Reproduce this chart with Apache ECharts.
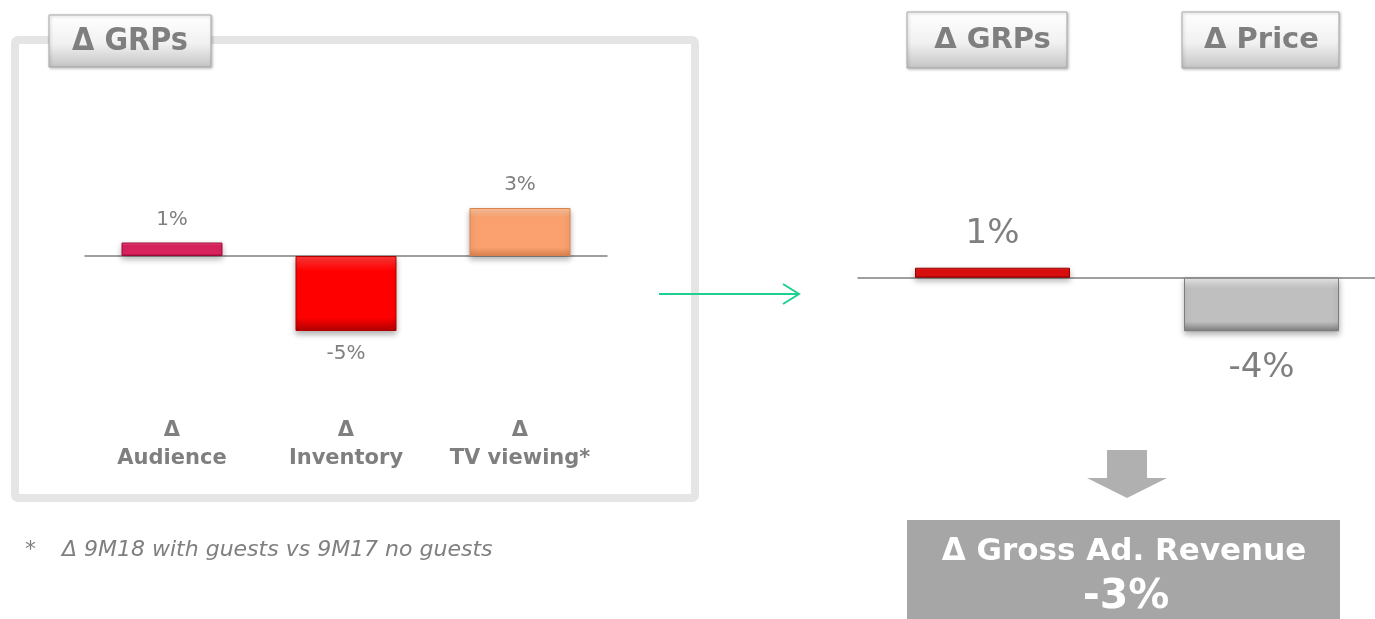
<!DOCTYPE html>
<html>
<head>
<meta charset="utf-8">
<script src="https://cdn.jsdelivr.net/npm/echarts@6/dist/echarts.min.js"></script>
<style>
  html, body { margin: 0; padding: 0; background: #fff; }
  #chart { width: 1375px; height: 619px; }
</style>
</head>
<body>
<div id="chart"></div>
<script>
// drivers of GRPs (left panel)
const driverCats = ['Δ\nAudience', 'Δ\nInventory', 'Δ\nTV viewing*']
const driverVals = [0.9, -5.0, 3.2]

// GRPs x price (right panel)
const resultCats = ['Δ GRPs', 'Δ Price']
const resultVals = [0.75, -4.0]

const leftTitle = 'Δ GRPs'
const revenueTitle = 'Δ Gross Ad. Revenue'
const revenueVal = -3
const footnote = 'Δ 9M18 with guests vs 9M17 no guests'

const FONT = 'DejaVu Sans, Verdana, sans-serif'
const GREY_TEXT = '#7f7f7f'

// light / mid / dark tones per bar, to fake the bevel
const driverPalette = [
  ['#f7578a', '#dc2360', '#9c0b3b'],
  ['#ff3a3a', '#ff0000', '#b00000'],
  ['#fdc39c', '#faa16f', '#d9834f'],
]
const resultPalette = [
  ['#ff4a4a', '#e00f0f', '#900000'],
  ['#ececec', '#bfbfbf', '#7c7c7c'],
]

function bevel(c) {
  return new echarts.graphic.LinearGradient(0, 0, 0, 1, [
    { offset: 0, color: c[0] },
    { offset: 0.2, color: c[1] },
    { offset: 0.82, color: c[1] },
    { offset: 1, color: c[2] },
  ])
}

function pct(v) {
  return Math.round(v) + '%'
}

function barItems(vals, palette, dTop, dBottom) {
  return vals.map((v, i) => ({
    value: v,
    itemStyle: {
      color: bevel(palette[i]),
      borderColor: palette[i][2],
      borderWidth: 1,
      shadowBlur: 6,
      shadowOffsetY: 3,
      shadowColor: 'rgba(0,0,0,0.3)',
    },
    label: {
      position: v >= 0 ? 'top' : 'bottom',
      distance: v >= 0 ? dTop : dBottom,
    },
  }))
}

function headerBox(x, y, w, h) {
  return {
    type: 'rect',
    shape: { x, y, width: w, height: h },
    style: {
      fill: new echarts.graphic.LinearGradient(0, 0, 0, 1, [
        { offset: 0, color: '#ffffff' },
        { offset: 0.55, color: '#f1f1f1' },
        { offset: 1, color: '#c4c4c4' },
      ]),
      stroke: '#a9a9a9',
      lineWidth: 1,
      shadowBlur: 3,
      shadowOffsetX: 1,
      shadowOffsetY: 1,
      shadowColor: 'rgba(0,0,0,0.25)',
    },
  }
}

const chart = echarts.init(document.getElementById('chart'))

const option = {
  animation: false,
  textStyle: { fontFamily: FONT },
  grid: [
    { left: 85, top: 196, width: 522, height: 180, outerBoundsMode: 'none' },
    { left: 858, top: 251, width: 538, height: 107, outerBoundsMode: 'none' },
  ],
  xAxis: [
    {
      gridIndex: 0, type: 'category', data: driverCats,
      axisLine: { onZero: true, lineStyle: { color: '#808080', width: 1.5 } },
      axisTick: { show: false }, axisLabel: { show: false },
    },
    {
      gridIndex: 0, type: 'category', data: driverCats, position: 'bottom',
      axisLine: { show: false, onZero: false }, axisTick: { show: false },
      axisLabel: {
        interval: 0, color: GREY_TEXT, fontWeight: 'bold', fontSize: 21, lineHeight: 28,
        margin: 41, fontFamily: FONT,
      },
    },
    {
      gridIndex: 1, type: 'category', data: resultCats,
      axisLine: { onZero: true, lineStyle: { color: '#808080', width: 1.5 } },
      axisTick: { show: false }, axisLabel: { show: false },
    },
    {
      gridIndex: 1, type: 'category', data: resultCats, position: 'top',
      axisLine: { show: false, onZero: false }, axisTick: { show: false },
      axisLabel: {
        interval: 0, color: GREY_TEXT, fontWeight: 'bold', fontSize: 29,
        margin: 196, fontFamily: FONT,
      },
    },
  ],
  yAxis: [
    { gridIndex: 0, type: 'value', min: -8, max: 4, show: false },
    { gridIndex: 1, type: 'value', min: -6, max: 2, show: false },
  ],
  series: [
    {
      type: 'bar', xAxisIndex: 0, yAxisIndex: 0, barWidth: 101,
      data: barItems(driverVals, driverPalette, 13, 13),
      label: {
        show: true, color: GREY_TEXT, fontSize: 20, fontFamily: FONT,
        formatter: (p) => pct(p.value),
      },
    },
    {
      type: 'bar', xAxisIndex: 2, yAxisIndex: 1, barWidth: 155,
      data: barItems(resultVals, resultPalette, 17, 20),
      label: {
        show: true, color: GREY_TEXT, fontSize: 34, fontFamily: FONT,
        formatter: (p) => pct(p.value),
      },
    },
  ],
  graphic: [
    // left frame
    {
      type: 'rect', z: -10,
      shape: { x: 15, y: 40, width: 680, height: 458, r: 3 },
      style: { fill: 'none', stroke: '#e5e5e5', lineWidth: 8 },
    },
    headerBox(49, 15, 162, 52),
    {
      type: 'text', x: 130, y: 42,
      style: {
        text: leftTitle, fill: GREY_TEXT, align: 'center', verticalAlign: 'middle',
        font: 'bold 32px "DejaVu Sans Condensed", "DejaVu Sans", sans-serif',
      },
    },
    headerBox(907, 12, 160, 56),
    headerBox(1182, 12, 157, 56),
    // green connector arrow
    {
      type: 'polyline',
      shape: { points: [[659, 294], [799, 294]] },
      style: { stroke: '#1fcf8f', lineWidth: 2, fill: 'none' },
    },
    {
      type: 'polyline',
      shape: { points: [[783, 284], [799, 294], [783, 304]] },
      style: { stroke: '#1fcf8f', lineWidth: 2, fill: 'none' },
    },
    // block arrow down
    {
      type: 'polygon',
      shape: {
        points: [[1107, 450], [1147, 450], [1147, 478], [1167, 478], [1127, 498], [1087, 478], [1107, 478]],
      },
      style: { fill: '#b0b0b0' },
    },
    // revenue box
    {
      type: 'rect',
      shape: { x: 907, y: 520, width: 433, height: 99 },
      style: { fill: '#a6a6a6' },
    },
    {
      type: 'text', x: 1124, y: 552,
      style: {
        text: revenueTitle, fill: '#ffffff', align: 'center', verticalAlign: 'middle',
        font: 'bold 31px "DejaVu Sans", sans-serif',
      },
    },
    {
      type: 'text', x: 1126, y: 597,
      style: {
        text: pct(revenueVal), fill: '#ffffff', align: 'center', verticalAlign: 'middle',
        font: 'bold 41px "DejaVu Sans", sans-serif',
      },
    },
    // footnote
    {
      type: 'text', x: 25, y: 550,
      style: {
        text: '*', fill: GREY_TEXT, verticalAlign: 'middle',
        font: 'italic 22px "DejaVu Sans", sans-serif',
      },
    },
    {
      type: 'text', x: 62, y: 550,
      style: {
        text: footnote, fill: GREY_TEXT, verticalAlign: 'middle',
        font: 'italic 22px "DejaVu Sans", sans-serif',
      },
    },
  ],
}

chart.setOption(option)
</script>
</body>
</html>
